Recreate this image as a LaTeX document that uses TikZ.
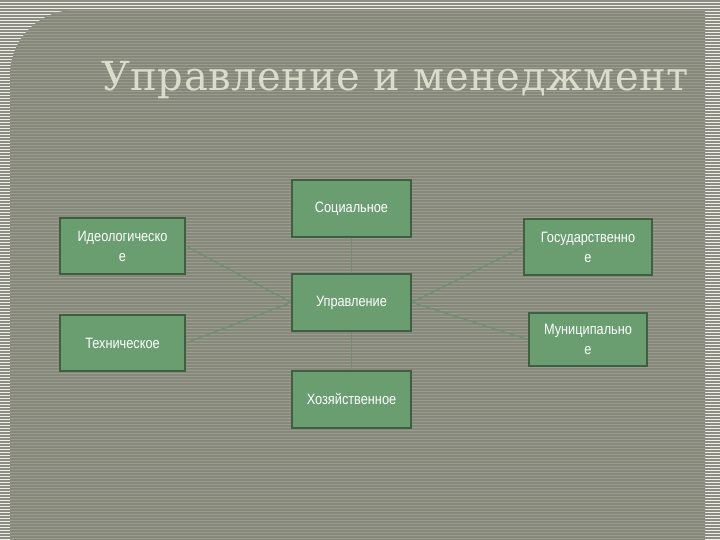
\documentclass[tikz,border=0pt]{standalone}
\usepackage{fontspec}
\setmainfont{DejaVu Serif}
\newfontfamily\boxfont{Liberation Sans}
\definecolor{outerbg}{HTML}{EEEEEA}
\definecolor{outerln}{HTML}{8C8C80}
\definecolor{panel}{HTML}{85887A}
\definecolor{panelln}{HTML}{9A9C8E}
\definecolor{boxfill}{HTML}{6A9E70}
\definecolor{boxdraw}{HTML}{3F5F40}
\definecolor{conn}{HTML}{6F8F70}
\definecolor{titlec}{HTML}{DCDCCC}
\tikzset{
  bx/.style={draw=boxdraw, line width=2pt, fill=boxfill, text=white, font=\boxfont\fontsize{15}{20}\selectfont, align=center, inner sep=2pt},
  cn/.style={draw=conn, line width=1.2pt}
}
\newcommand{\nx}[1]{\scalebox{0.85}[1]{#1}}
\begin{document}
\begin{tikzpicture}[x=1pt,y=-1pt]
\useasboundingbox (0,0) rectangle (720,540);
\fill[outerbg] (0,0) rectangle (720,540);
\foreach \i in {0,...,179} \draw[outerln, line width=1.2pt] (0,\i*3+1) -- (720,\i*3+1);
\def\panelpath{(10,540) [rounded corners=65pt] -- (10,10) [sharp corners] -- (705,10) -- (705,540) -- cycle}
\fill[panel] \panelpath;
\begin{scope}
\clip \panelpath;
\foreach \i in {0,...,179} \draw[panelln, line width=0.8pt] (0,\i*3+1) -- (720,\i*3+1);
\end{scope}
\node (title) [text=titlec, font=\fontsize{40}{48}\selectfont] at (395,80) {\addfontfeatures{LetterSpace=1.5}Управление и менеджмент};

\node (soc) [bx, minimum width=119, minimum height=57] at (351.5,208.5) {\nx{Социальное}};
\node (ide) [bx, minimum width=125, minimum height=56] at (122.5,246) {\nx{Идеологическо}\\\nx{е}};
\node (gos) [bx, minimum width=128, minimum height=56] at (588,247) {\nx{Государственно}\\\nx{е}};
\node (upr) [bx, minimum width=119, minimum height=57] at (351.5,302.5) {\nx{Управление}};
\node (teh) [bx, minimum width=125, minimum height=56] at (122.5,343) {\nx{Техническое}};
\node (mun) [bx, minimum width=118, minimum height=53] at (588,339.5) {\nx{Муниципально}\\\nx{е}};
\node (hoz) [bx, minimum width=119, minimum height=57] at (351.5,399.5) {\nx{Хозяйственное}};

\draw[cn] (soc) -- (upr);
\draw[cn] (upr) -- (hoz);
\draw[cn] (ide.east) -- (upr.west);
\draw[cn] (teh.east) -- (upr.west);
\draw[cn] (upr.east) -- (gos.west);
\draw[cn] (upr.east) -- (mun.west);
\end{tikzpicture}
\end{document}
